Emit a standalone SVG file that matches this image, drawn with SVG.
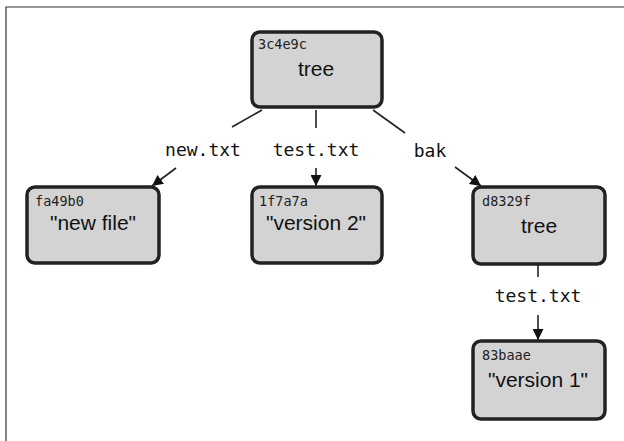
<svg xmlns="http://www.w3.org/2000/svg" width="624" height="441" viewBox="0 0 624 441">
<defs>
<marker id="arr" viewBox="0 0 10 10" refX="10" refY="5" markerWidth="11" markerHeight="11" markerUnits="userSpaceOnUse" orient="auto">
<path d="M0,0 L10,5 L0,10 z" fill="#111"/>
</marker>
<style>
.box{fill:#d3d3d3;stroke:#222;stroke-width:3.5}
.hash{font-family:"DejaVu Sans Mono",monospace;font-size:13.5px;fill:#222}
.main{font-family:"Liberation Sans",Arial,sans-serif;font-size:21px;fill:#111;text-anchor:middle}
.lbl{font-family:"DejaVu Sans Mono",monospace;font-size:18px;fill:#111;text-anchor:middle}
.edge{stroke:#222;stroke-width:1.6;fill:none}
</style>
</defs>
<rect x="0" y="0" width="624" height="441" fill="#fff"/>
<path d="M6,441 V7 H624" fill="none" stroke="#333" stroke-width="1.2"/>
<g id="connectors">
<path class="edge" d="M262,110 L232,127"/>
<path class="edge" d="M176,168 L152,186" marker-end="url(#arr)"/>
<text class="lbl" x="203" y="156">new.txt</text>
<path class="edge" d="M316,110 V128"/>
<path class="edge" d="M316,168 V186" marker-end="url(#arr)"/>
<text class="lbl" x="316" y="156">test.txt</text>
<path class="edge" d="M373,110 L405,133"/>
<path class="edge" d="M455,167 L481,186" marker-end="url(#arr)"/>
<text class="lbl" x="430" y="157">bak</text>
<path class="edge" d="M538,265 V277"/>
<path class="edge" d="M538,315 V340" marker-end="url(#arr)"/>
<text class="lbl" x="538" y="302">test.txt</text>
</g>
<g id="n3c4e9c">
<rect class="box" x="252" y="32" width="130" height="75" rx="8"/>
<text class="hash" x="258" y="49">3c4e9c</text>
<text class="main" x="316" y="76">tree</text>
</g>
<g id="nfa49b0">
<rect class="box" x="27" y="187" width="132" height="76" rx="8"/>
<text class="hash" x="35" y="206">fa49b0</text>
<text class="main" x="93" y="230">"new file"</text>
</g>
<g id="n1f7a7a">
<rect class="box" x="252" y="187" width="130" height="76" rx="8"/>
<text class="hash" x="259" y="206">1f7a7a</text>
<text class="main" x="316" y="230">"version 2"</text>
</g>
<g id="nd8329f">
<rect class="box" x="473" y="187" width="132" height="77" rx="8"/>
<text class="hash" x="482" y="206">d8329f</text>
<text class="main" x="539" y="233">tree</text>
</g>
<g id="n83baae">
<rect class="box" x="473" y="341" width="132" height="78" rx="8"/>
<text class="hash" x="482" y="360">83baae</text>
<text class="main" x="538" y="387">"version 1"</text>
</g>
</svg>
